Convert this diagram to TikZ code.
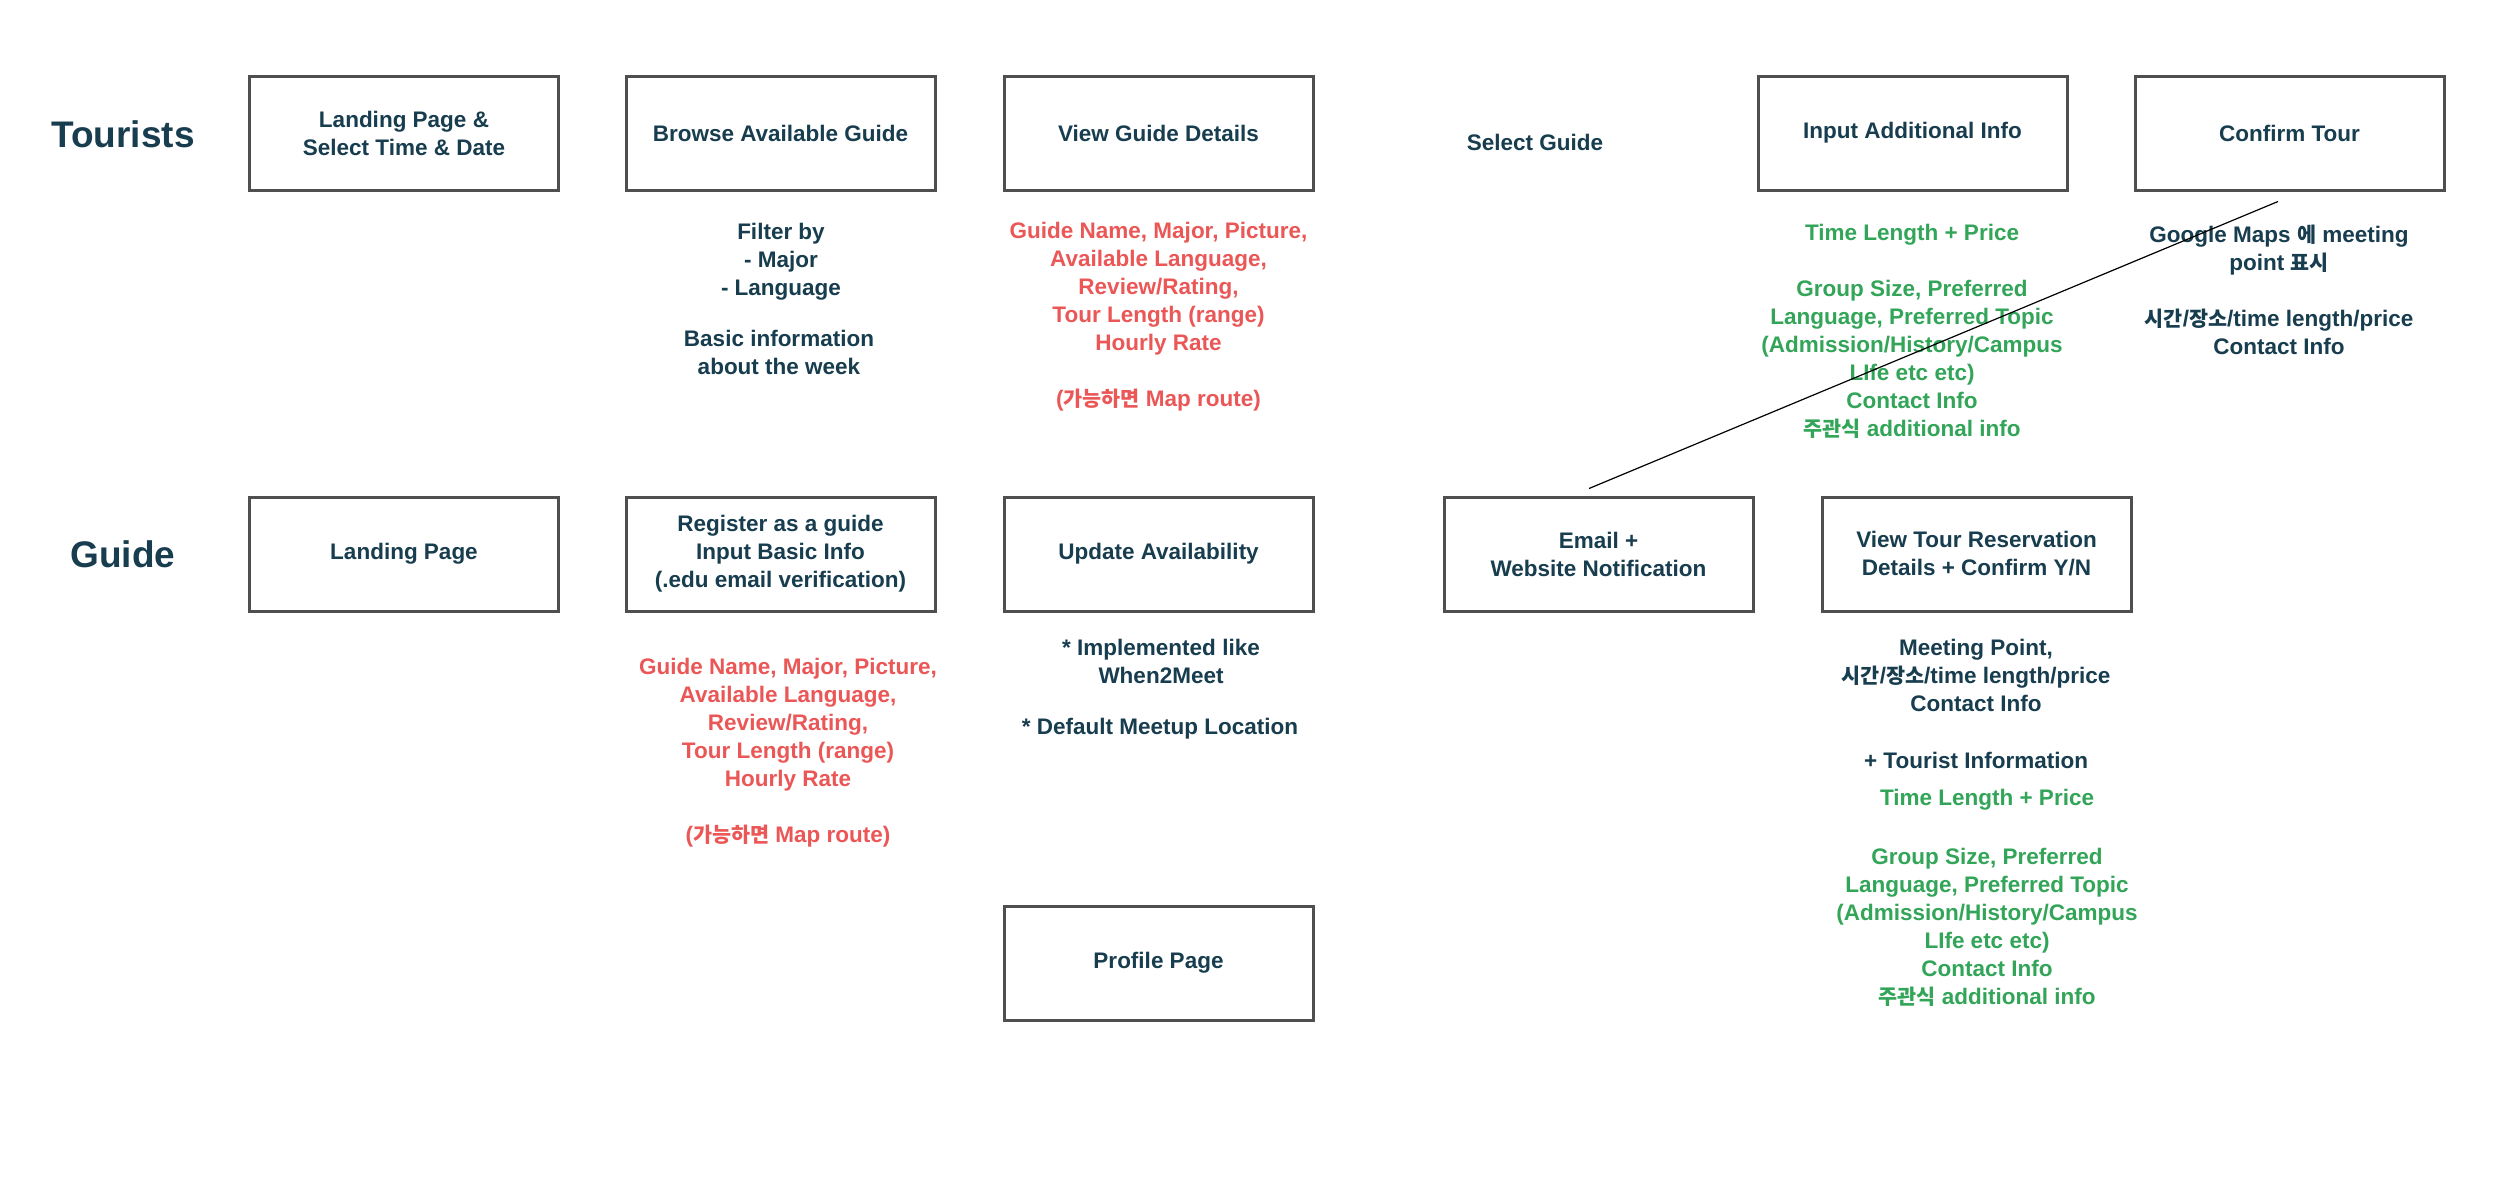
\documentclass[tikz,border=0pt]{standalone}
\usepackage{fontspec}
\setmainfont{Liberation Sans}
\newfontfamily\kr{Noto Sans CJK KR}[Scale=0.92]
\definecolor{ink}{HTML}{173D4F}
\definecolor{redtxt}{HTML}{EB5757}
\definecolor{greentxt}{HTML}{33A559}
\definecolor{border}{HTML}{4F4F4F}
\begin{document}
\begin{tikzpicture}[x=1pt,y=-1pt,
  screen/.style={draw=border,line width=3pt,minimum width=309pt,minimum height=114pt,
    align=center,text=ink,inner sep=0pt,font=\fontsize{22.5}{28}\selectfont\bfseries},
  note/.style={align=center,text=ink,inner sep=0pt,font=\fontsize{22.5}{28}\selectfont\bfseries},
  rednote/.style={note,text=redtxt},
  greennote/.style={note,text=greentxt},
  rowlabel/.style={text=ink,inner sep=0pt,font=\fontsize{37}{44}\selectfont\bfseries},
  link/.style={draw=black,line width=1.2pt}]
\useasboundingbox[fill=white] (0,0) rectangle (2500,1200);

% row labels
\node[rowlabel] (tourists) at (123,134) {Tourists};
\node[rowlabel] (guide) at (123,554) {Guide};

% tourist row
\node[screen] (tlanding) at (404,133) {Landing Page \&\\Select Time \& Date};
\node[screen] (browse) at (780.5,133) {Browse Available Guide};
\node[screen] (viewguide) at (1158.5,133) {View Guide Details};
\node[note] (select) at (1535,142) {Select Guide};
\node[screen] (input) at (1912.5,133) {Input Additional Info};
\node[screen] (confirm) at (2289.5,133) {Confirm Tour};

\node[note] (filter) at (781,261.5) {Filter by\\- Major\\- Language};
\node[note] (basic) at (779,352.5) {Basic information\\about the week};
\node[rednote] (guidedetails) at (1158.5,317) {Guide Name, Major, Picture,\\Available Language,\\Review/Rating,\\Tour Length (range)\\Hourly Rate\\[28pt]({\kr 가능하면} Map route)};
\node[greennote] (addinfo) at (1912,331.5) {Time Length + Price\\[28pt]Group Size, Preferred\\Language, Preferred Topic\\(Admission/History/Campus\\LIfe etc etc)\\Contact Info\\{\kr 주관식} additional info};
\node[note] (confirminfo) at (2279,290) {Google Maps {\kr 에} meeting\\point {\kr 표시}\\[28pt]{\kr 시간}/{\kr 장소}/time length/price\\Contact Info};

% guide row
\node[screen] (glanding) at (404,554) {Landing Page};
\node[screen] (register) at (780.5,554) {Register as a guide\\Input Basic Info\\(.edu email verification)};
\node[screen] (update) at (1158.5,554) {Update Availability};
\node[screen] (email) at (1598.5,554) {Email +\\Website Notification};
\node[screen] (viewtour) at (1976.5,554) {View Tour Reservation\\Details + Confirm Y/N};
\node[screen] (profile) at (1158.5,963) {Profile Page};

\node[rednote] (guideinput) at (788,752.5) {Guide Name, Major, Picture,\\Available Language,\\Review/Rating,\\Tour Length (range)\\Hourly Rate\\[28pt]({\kr 가능하면} Map route)};
\node[note] (when2meet) at (1161,661) {* Implemented like\\When2Meet};
\node[note] (meetup) at (1160,729) {* Default Meetup Location};
\node[note] (meeting) at (1976,675.5) {Meeting Point,\\{\kr 시간}/{\kr 장소}/time length/price\\Contact Info};
\node[note] (touristinfo) at (1976,760) {+ Tourist Information};
\node[greennote] (timeprice) at (1987,800) {Time Length + Price};
\node[greennote] (groupinfo) at (1987,927.5) {Group Size, Preferred\\Language, Preferred Topic\\(Admission/History/Campus\\LIfe etc etc)\\Contact Info\\{\kr 주관식} additional info};

% connector
\draw[link] ([xshift=-9.5pt,yshift=7pt]email.north) -- ([xshift=-11.5pt,yshift=-10pt]confirm.south);
\end{tikzpicture}
\end{document}
